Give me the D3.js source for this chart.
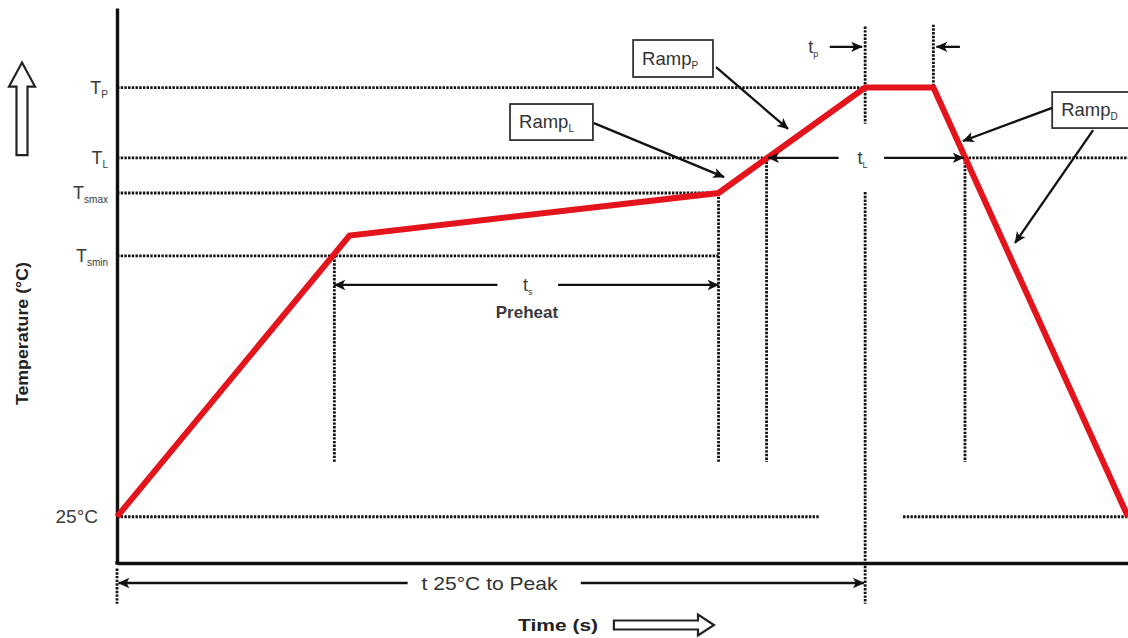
<!DOCTYPE html>
<html><head><meta charset="utf-8">
<script src="https://cdn.jsdelivr.net/npm/d3@7"></script>
<style>
html,body{margin:0;padding:0;background:#fff;}
svg{display:block;font-family:"Liberation Sans",Arial,Helvetica,sans-serif;}
.narrow{font-family:"Liberation Sans Narrow","Arial Narrow","Liberation Sans",Arial,sans-serif;}
</style></head>
<body>
<svg id="chart" width="1128" height="638"></svg>
<script>
// ---- data (time in s, temperature in °C, schematic) ----
const profileTime = [0, 92, 238, 296, 323, 400];
const profileTemp = [25, 177, 200, 257, 257, 25];

const levelMain  = ["T", "T", "T", "T", "25°C"];
const levelSub   = ["P", "L", "smax", "smin", ""];
const levelTemps = [257, 219, 200, 166, 25];

const tsStart = 86, tsEnd = 238, tLStart = 257, tLEnd = 335.5, tpStart = 296, tpEnd = 323;

const rampNames = ["Ramp", "Ramp", "Ramp"];
const rampSubs  = ["P", "L", "D"];

// ---- scales ----
const svg = d3.select("#chart");
const x = d3.scaleLinear().domain([0, 400]).range([117, 1128]);
const y = d3.scaleLinear().domain([0, 300]).range([563, 8]);

const dotted = {stroke: "#111", w: 2.8, dash: "2.4,1.3"};
function dline(t0, T0, t1, T1) {
  svg.append("line")
    .attr("x1", x(t0)).attr("y1", y(T0)).attr("x2", x(t1)).attr("y2", y(T1))
    .attr("stroke", dotted.stroke).attr("stroke-width", dotted.w)
    .attr("stroke-dasharray", dotted.dash);
}

// arrow marker
const defs = svg.append("defs");
defs.append("marker").attr("id", "arr")
  .attr("viewBox", "0 0 12 12").attr("refX", 11).attr("refY", 6)
  .attr("markerWidth", 13).attr("markerHeight", 13)
  .attr("markerUnits", "userSpaceOnUse").attr("orient", "auto")
  .append("path").attr("d", "M1,1.2 L11.5,6 L1,10.8 L3.5,6 Z").attr("fill", "#111");

function arrow(t0, T0, t1, T1) {
  svg.append("line")
    .attr("x1", x(t0)).attr("y1", y(T0)).attr("x2", x(t1)).attr("y2", y(T1))
    .attr("stroke", "#111").attr("stroke-width", 2.3)
    .attr("marker-end", "url(#arr)");
}

// ---- horizontal guide lines ----
const [Tp, TL, Tsmax, Tsmin, T25] = levelTemps;
dline(0, Tp, tpStart, Tp);
dline(0, TL, tLStart, TL);
dline(tLEnd, TL, 400, TL);
dline(0, Tsmax, tsEnd, Tsmax);
dline(0, Tsmin, tsEnd, Tsmin);
dline(0, T25, 278, T25);
dline(311, T25, 400, T25);

// ---- vertical guide lines ----
const vBottom = 54.6;
dline(tsStart, Tsmin, tsStart, vBottom);
dline(tsEnd, Tsmax, tsEnd, vBottom);
dline(tLStart, TL, tLStart, vBottom);
dline(tLEnd, TL, tLEnd, vBottom);
dline(tpStart, 290, tpStart, 237.5);
dline(tpStart, 200.5, tpStart, -22);
dline(tpEnd, 291, tpEnd, Tp);
dline(0, -3, 0, -22);

// ---- axes ----
const yAxis = svg.append("g").attr("transform", `translate(${x(0)},0)`)
  .call(d3.axisLeft(y).ticks(0).tickSizeOuter(0));
const xAxis = svg.append("g").attr("transform", `translate(0,${y(0)})`)
  .call(d3.axisBottom(x).ticks(0).tickSizeOuter(0));
[yAxis, xAxis].forEach(g => g.select(".domain").attr("stroke", "#111").attr("stroke-width", 3.4));
svg.append("rect").attr("x", x(0) - 1.7).attr("y", y(0) - 1.7).attr("width", 3.4).attr("height", 3.4).attr("fill", "#111");

// ---- profile line ----
const profile = profileTime.map((t, i) => [t, profileTemp[i]]);
svg.append("path").datum(profile)
  .attr("d", d3.line().x(d => x(d[0])).y(d => y(d[1])))
  .attr("fill", "none").attr("stroke", "#e3141c").attr("stroke-width", 6)
  .attr("stroke-linejoin", "miter");

// ---- level labels ----
levelTemps.forEach((T, i) => {
  const txt = svg.append("text")
    .attr("x", x(0) - 9).attr("y", y(T) + 6)
    .attr("text-anchor", "end").attr("fill", "#3a3a3a");
  if (levelSub[i]) {
    txt.append("tspan").text(levelMain[i]).attr("font-size", 18);
    txt.append("tspan").text(levelSub[i]).attr("font-size", 10).attr("dy", 4);
  } else {
    txt.attr("x", x(0) - 19).attr("class", "narrow").append("tspan").text(levelMain[i]).attr("font-size", 19);
  }
});

// ---- time span annotations ----
function subLabel(t, T, main, sub, size = 18) {
  const txt = svg.append("text").attr("x", x(t)).attr("y", y(T) + 6)
    .attr("text-anchor", "middle").attr("fill", "#3a3a3a");
  txt.append("tspan").text(main).attr("font-size", size);
  txt.append("tspan").text(sub).attr("font-size", 9).attr("dy", 4);
}
// t_s
arrow(150.5, 150.3, tsStart, 150.3);
arrow(174.5, 150.3, tsEnd, 150.3);
subLabel(162.5, 150.3, "t", "s");
svg.append("text").attr("class", "narrow").attr("x", x(162.2)).attr("y", y(135.7) + 6)
  .attr("text-anchor", "middle").attr("fill", "#3a3a3a").attr("font-size", 17)
  .attr("font-weight", "bold").text("Preheat");
// t_L
arrow(285.5, TL, tLStart + 0.6, TL);
arrow(303.5, TL, tLEnd - 0.5, TL);
subLabel(295, TL, "t", "L");
// t_p
subLabel(275.5, 279, "t", "p");
arrow(282, 279, tpStart - 1.2, 279);
arrow(333.5, 279, tpEnd + 1.2, 279);
// t 25°C to Peak
arrow(115, -10.8, 0.6, -10.8);
arrow(183.5, -10.8, tpStart - 0.5, -10.8);
svg.append("text").attr("class", "narrow").attr("x", x(120.5)).attr("y", y(-10.8) + 7)
  .attr("fill", "#333").attr("font-size", 19).attr("textLength", 136)
  .attr("lengthAdjust", "spacingAndGlyphs")
  .text("t 25°C to Peak");

// ---- ramp boxes ----
const rampBoxes = [[204.2, 235.8, 282.7, 262.7], [155.5, 188.3, 248.1, 228.6], [370, 405, 254.6, 235.1]];
rampBoxes.forEach((b, i) => {
  svg.append("rect").attr("x", x(b[0])).attr("y", y(b[2]))
    .attr("width", x(b[1]) - x(b[0])).attr("height", y(b[3]) - y(b[2]))
    .attr("fill", "#fff").attr("stroke", "#333").attr("stroke-width", 1.8);
  const txt = svg.append("text").attr("x", x(b[0]) + 9).attr("y", (y(b[2]) + y(b[3])) / 2 + 6)
    .attr("fill", "#333");
  txt.append("tspan").text(rampNames[i]).attr("font-size", 18.5);
  txt.append("tspan").text(rampSubs[i]).attr("font-size", 10).attr("dy", 4);
});
arrow(237, 268, 265.5, 234.6);
arrow(188.7, 237.8, 240.2, 208.6);
arrow(370, 246, 334.7, 228.1);
arrow(386.2, 234, 355.3, 173);

// ---- axis titles with hollow arrows ----
svg.append("text").attr("class", "narrow").attr("transform", `translate(28,${y(124)}) rotate(-90)`)
  .attr("text-anchor", "middle").attr("font-size", 17).attr("font-weight", "bold")
  .attr("textLength", 143).attr("lengthAdjust", "spacingAndGlyphs")
  .attr("fill", "#222").text("Temperature (°C)");
svg.append("text").attr("class", "narrow").attr("x", x(174.5)).attr("y", y(-33.5) + 6)
  .attr("text-anchor", "middle").attr("font-size", 17).attr("font-weight", "bold")
  .attr("textLength", 80).attr("lengthAdjust", "spacingAndGlyphs")
  .attr("fill", "#222").text("Time (s)");

// hollow arrow right (time)
const hx0 = x(196.6), hx1 = x(236.2), hy = y(-33.5);
svg.append("path")
  .attr("d", `M${hx0},${hy - 4.5} L${hx1 - 16},${hy - 4.5} L${hx1 - 16},${hy - 10.5} L${hx1},${hy} L${hx1 - 16},${hy + 10.5} L${hx1 - 16},${hy + 4.5} L${hx0},${hy + 4.5} Z`)
  .attr("fill", "#fff").attr("stroke", "#222").attr("stroke-width", 2.2);
// hollow arrow up (temperature)
const vx = 22, vy0 = y(220.5), vy1 = y(270.5);
svg.append("path")
  .attr("d", `M${vx - 5.5},${vy0} L${vx - 5.5},${vy1 + 24} L${vx - 13},${vy1 + 24} L${vx},${vy1} L${vx + 13},${vy1 + 24} L${vx + 5.5},${vy1 + 24} L${vx + 5.5},${vy0} Z`)
  .attr("fill", "#fff").attr("stroke", "#222").attr("stroke-width", 2.2);
</script>
</body></html>
